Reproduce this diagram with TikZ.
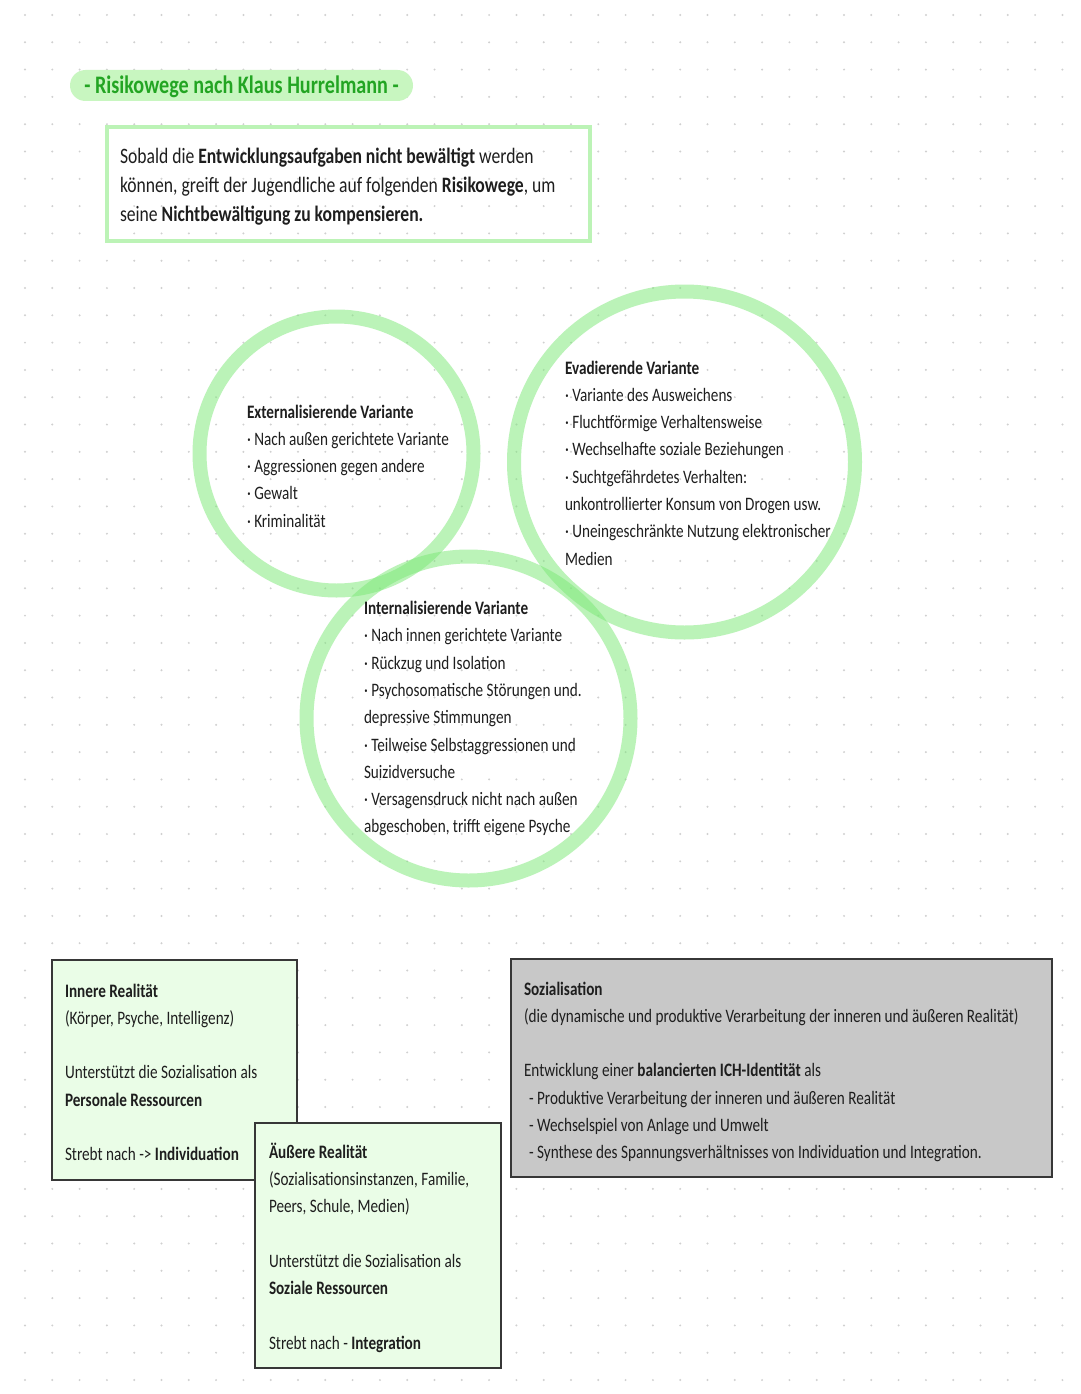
\documentclass[tikz,border=0pt]{standalone}
\usepackage{fontspec}
\setmainfont{Carlito}[FakeStretch=0.80]
\definecolor{titlegreen}{RGB}{35,165,35}
\definecolor{pillgreen}{RGB}{200,246,192}
\definecolor{introgreen}{RGB}{188,243,182}
\definecolor{ringgreen}{RGB}{125,232,120}
\definecolor{boxgreen}{RGB}{234,253,231}
\definecolor{boxgray}{RGB}{200,200,200}
\definecolor{boxline}{RGB}{55,55,55}
\definecolor{dotgray}{RGB}{208,208,208}
\definecolor{ink}{RGB}{30,30,30}

\begin{document}
\begin{tikzpicture}[x=1pt,y=-1pt,
  every node/.style={inner sep=0pt,outer sep=0pt},
  txt/.style={anchor=north west,align=left,text=ink,font=\fontsize{19}{27.3}\selectfont},
  ring/.style={circle,draw=ringgreen,draw opacity=0.52,line width=14pt},
  realbox/.style={anchor=north west,draw=boxline,line width=1.4pt,fill=boxgreen},
  sozbox/.style={realbox,fill=boxgray}]
\useasboundingbox (0,0) rectangle (1080,1394);
\fill[white] (0,0) rectangle (1080,1394);
\foreach \i in {0,...,39}
  \foreach \j in {0,...,50}
    \fill[dotgray] (25+27.3*\i,15+27.3*\j) circle[radius=1.1pt];

\node[fill=pillgreen,rounded corners=15.5pt,minimum width=343pt,minimum height=31pt] (pill) at (241.5,85.5) {};
\node[anchor=base,text=titlegreen,font=\bfseries\fontsize{25.2}{29}\selectfont] (title) at (241.5,93.5) {- Risikowege nach Klaus Hurrelmann -};

\node[anchor=north west,draw=introgreen,line width=4pt,minimum width=483pt,minimum height=114pt] (introbox) at (107,127) {};
\node[txt,font=\fontsize{22}{28.8}\selectfont] (intro) at (120,143.8) {\strut Sobald die \textbf{Entwicklungsaufgaben nicht bewältigt} werden\\
können, greift der Jugendliche auf folgenden \textbf{Risikowege}, um\\
seine \textbf{Nichtbewältigung zu kompensieren.}};

\node[ring,minimum size=274pt] (extring) at (336.5,453.5) {};
\node[ring,minimum size=341pt] (evaring) at (684.5,462) {};
\node[ring,minimum size=324pt] (intring) at (468.5,718.5) {};

\node[txt] (ext) at (247,398.9) {\strut\textbf{Externalisierende Variante}\\
· Nach außen gerichtete Variante\\
· Aggressionen gegen andere\\
· Gewalt\\
· Kriminalität};

\node[txt] (eva) at (565,354.9) {\strut\textbf{Evadierende Variante}\\
· Variante des Ausweichens\\
· Fluchtförmige Verhaltensweise\\
· Wechselhafte soziale Beziehungen\\
· Suchtgefährdetes Verhalten:\\
unkontrollierter Konsum von Drogen usw.\\
· Uneingeschränkte Nutzung elektronischer\\
Medien};

\node[txt] (int) at (364,595.4) {\strut\textbf{Internalisierende Variante}\\
· Nach innen gerichtete Variante\\
· Rückzug und Isolation\\
· Psychosomatische Störungen und.\\
depressive Stimmungen\\
· Teilweise Selbstaggressionen und\\
Suizidversuche\\
· Versagensdruck nicht nach außen\\
abgeschoben, trifft eigene Psyche};

\node[realbox,minimum width=245pt,minimum height=220pt] (innerbox) at (52,960) {};
\node[txt] (inner) at (65,977.9) {\strut\textbf{Innere Realität}\\
(Körper, Psyche, Intelligenz)\\
\strut\\
Unterstützt die Sozialisation als\\
\textbf{Personale Ressourcen}\\
\strut\\
Strebt nach -> \textbf{Individuation}};

\node[realbox,minimum width=246pt,minimum height=245pt] (outerbox) at (255,1123) {};
\node[txt] (outer) at (269,1138.9) {\strut\textbf{Äußere Realität}\\
(Sozialisationsinstanzen, Familie,\\
Peers, Schule, Medien)\\
\strut\\
Unterstützt die Sozialisation als\\
\textbf{Soziale Ressourcen}\\
\strut\\
Strebt nach - \textbf{Integration}};

\node[sozbox,minimum width=541pt,minimum height=218pt] (sozbox) at (511,959) {};
\node[txt] (soz) at (524,975.9) {\strut\textbf{Sozialisation}\\
(die dynamische und produktive Verarbeitung der inneren und äußeren Realität)\\
\strut\\
Entwicklung einer \textbf{balancierten ICH-Identität} als\\
\hspace{5pt}- Produktive Verarbeitung der inneren und äußeren Realität\\
\hspace{5pt}- Wechselspiel von Anlage und Umwelt\\
\hspace{5pt}- Synthese des Spannungsverhältnisses von Individuation und Integration.};
\end{tikzpicture}
\end{document}
